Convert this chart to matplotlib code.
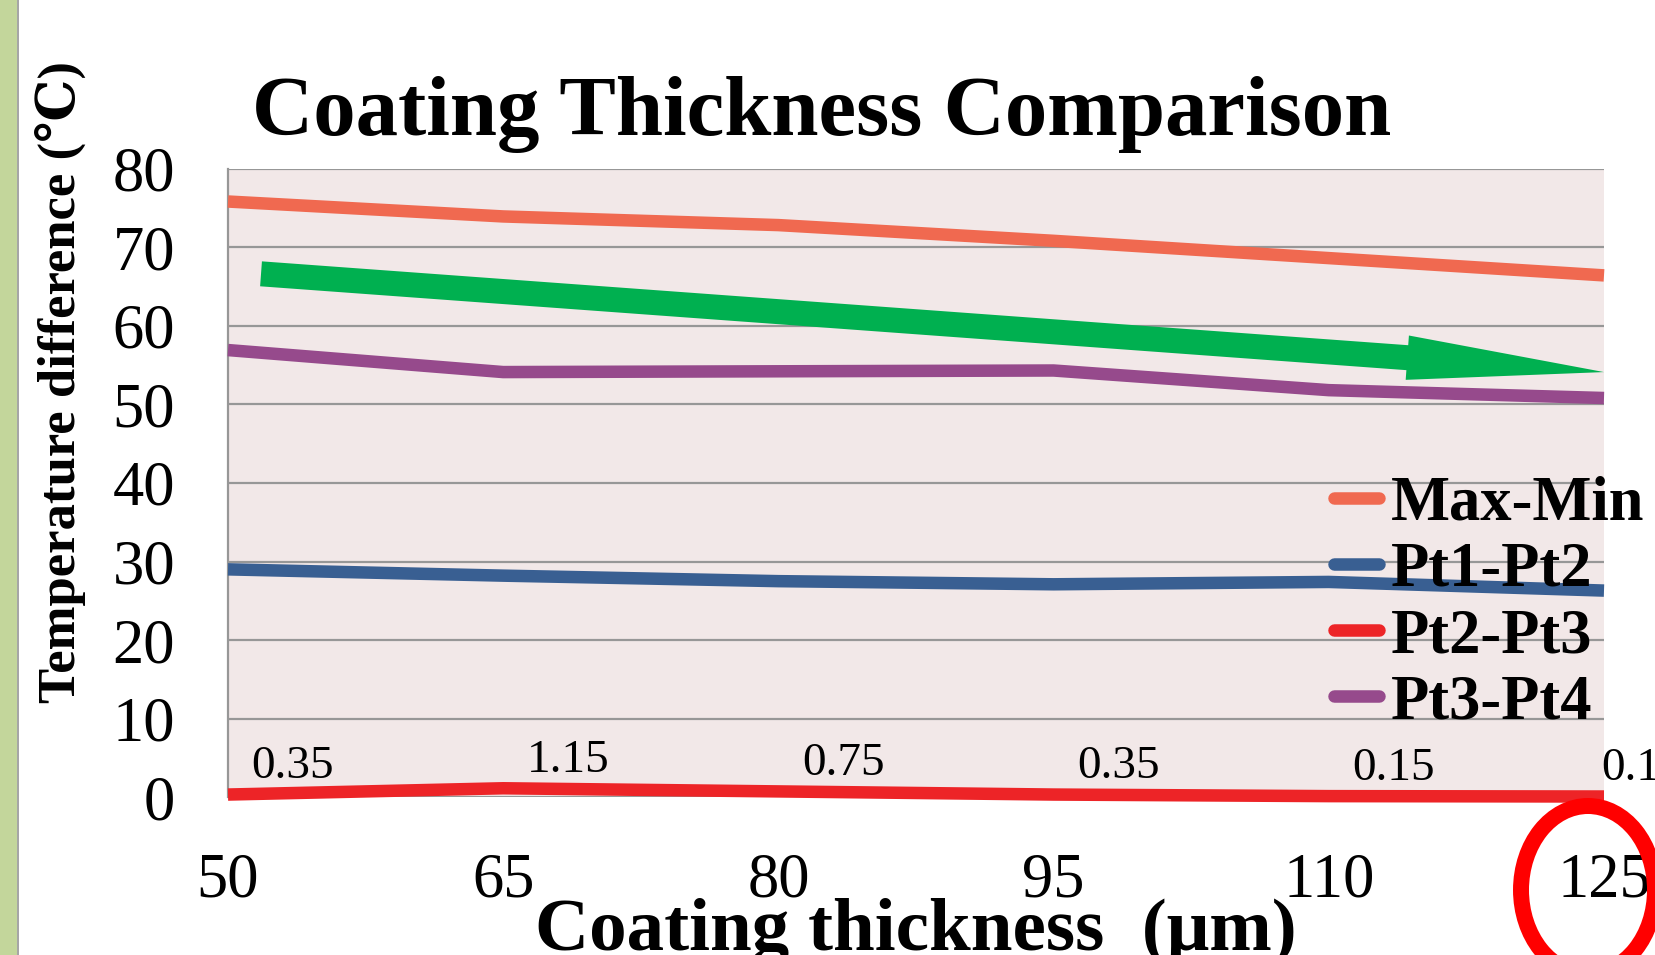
import matplotlib
matplotlib.use('Agg')
import matplotlib.pyplot as plt
from matplotlib.patches import Rectangle, Ellipse

# ---------------- data ----------------
thickness = ['50', '65', '80', '95', '110', '125']
series_names = ['Max-Min', 'Pt1-Pt2', 'Pt2-Pt3', 'Pt3-Pt4']
max_min = [75.8, 73.9, 72.8, 70.8, 68.6, 66.4]
pt1_pt2 = [29.0, 28.2, 27.5, 27.1, 27.4, 26.3]
pt2_pt3 = [0.35, 1.15, 0.75, 0.35, 0.15, 0.1]
pt3_pt4 = [56.9, 54.1, 54.2, 54.3, 51.8, 50.8]
pt2_pt3_labels = ['0.35', '1.15', '0.75', '0.35', '0.15', '0.1']
y_ticks = [0, 10, 20, 30, 40, 50, 60, 70, 80]

# ---------------- style ----------------
serif = ['Liberation Serif', 'DejaVu Serif']
colors = ['#F06950', '#395F92', '#ED2427', '#964A8C']
W, H = 1655, 955

fig = plt.figure(figsize=(W / 100, H / 100), dpi=100)
fig.patch.set_facecolor('white')

# left decorative strip
fig.add_artist(Rectangle((0, 0), 17 / W, 1, transform=fig.transFigure,
                         facecolor='#C3D69B', edgecolor='none'))
fig.add_artist(Rectangle((17 / W, 0), 2 / W, 1, transform=fig.transFigure,
                         facecolor='#A6A6A6', edgecolor='none'))

ax = fig.add_axes([228 / W, 1 - 797.3 / H, 1376 / W, 628.8 / H])
ax.set_facecolor('#F2E8E8')

xs = list(range(len(thickness)))
for name, vals, c in zip(series_names, [max_min, pt1_pt2, pt2_pt3, pt3_pt4], colors):
    ax.plot(xs, vals, color=c, lw=9, label=name, solid_capstyle='butt',
            solid_joinstyle='round', clip_on=False, zorder=3)

ax.set_xlim(0, len(thickness) - 1)
ax.set_ylim(0, 80)
ax.set_yticks(y_ticks)
ax.set_xticks(xs, thickness)
ax.grid(axis='y', color='#979797', lw=1.6)
ax.grid(axis='x', visible=False)
ax.set_axisbelow(True)
for s in ['top', 'right', 'bottom']:
    ax.spines[s].set_visible(False)
ax.spines['left'].set_color('#979797')
ax.spines['left'].set_linewidth(1.6)
ax.tick_params(axis='both', length=0)
ax.tick_params(axis='y', pad=38)
ax.tick_params(axis='x', pad=40)
for lab in ax.get_xticklabels() + ax.get_yticklabels():
    lab.set_family(serif)
    lab.set_fontsize(45)

# data labels for Pt2-Pt3
for i, (v, t) in enumerate(zip(pt2_pt3, pt2_pt3_labels)):
    last = i == len(pt2_pt3) - 1
    ax.annotate(t, (i, v), xytext=(-2 if last else 17, 20), textcoords='offset points',
                ha='left', va='center', fontsize=34, family=serif,
                annotation_clip=False, zorder=4)

# trend arrow
ax.annotate('', xy=(5.0, 54.1), xytext=(0.12, 66.6),
            arrowprops=dict(arrowstyle='simple,head_length=142,head_width=32,tail_width=18',
                            mutation_scale=1, facecolor='#00B050', edgecolor='none',
                            shrinkA=0, shrinkB=0),
            annotation_clip=False, zorder=2.5)

# axis labels
ax.set_ylabel('Temperature difference (℃)', fontsize=38, fontweight='bold', family=serif)
ax.yaxis.set_label_coords(-0.122, 0.66)
ax.yaxis.label.set_va('center')
ax.set_xlabel('Coating thickness  (μm)', fontsize=54, fontweight='bold', family=serif)
ax.xaxis.set_label_coords(0.5, -0.2428)
ax.xaxis.label.set_va('baseline')

# legend
leg = ax.legend(loc='center left', bbox_to_anchor=(1334 / W, 1 - 604 / H),
                bbox_transform=fig.transFigure, frameon=False,
                prop=dict(family=serif, weight='bold', size=45),
                handlelength=0.72, handletextpad=0.19, labelspacing=0.13,
                borderpad=0, borderaxespad=0)
leg.set_zorder(5)
for ln in leg.get_lines():
    ln.set_solid_capstyle('round')
    ln.set_linewidth(9)

# title
fig.text(822 / W, 1 - 135 / H, 'Coating Thickness Comparison', ha='center', va='baseline',
         fontsize=61, fontweight='bold', family=serif)

# red highlight ellipse
fig.add_artist(Ellipse((1588 / W, 1 - 890 / H), 134 / W, 168 / H, transform=fig.transFigure,
                       fill=False, edgecolor='#FF0000', lw=11.5, zorder=10))

fig.savefig('out.png', dpi=100)
